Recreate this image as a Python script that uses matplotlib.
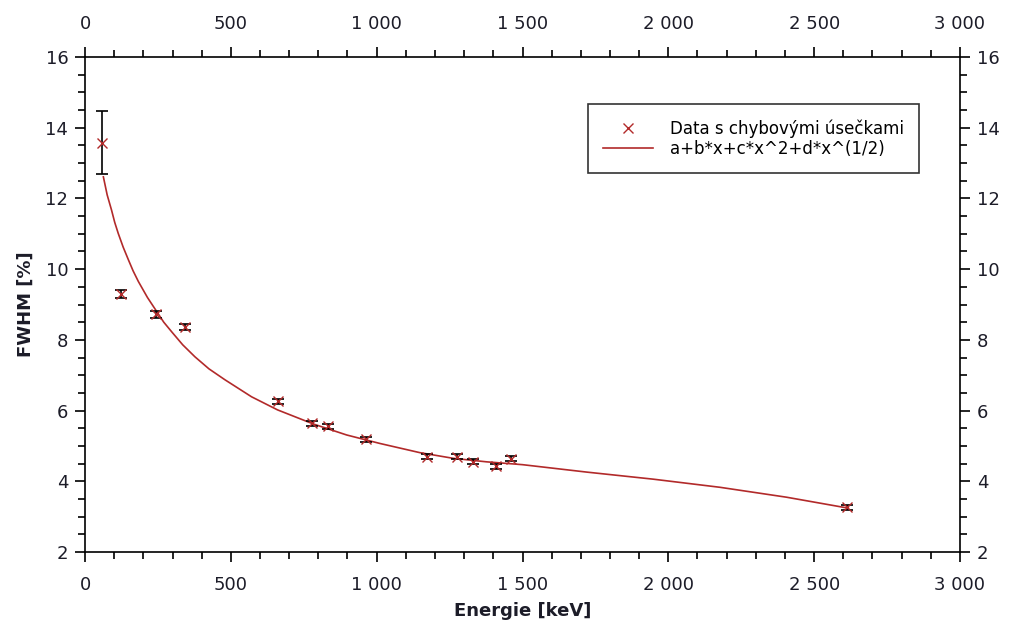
import matplotlib.pyplot as plt
from matplotlib.ticker import MultipleLocator, FuncFormatter

# measured points (energy keV, FWHM %, error)
energy = [59.5, 122, 245, 344, 662, 779, 834, 964, 1173, 1275, 1332, 1408, 1461, 2614]
fwhm = [13.58, 9.29, 8.72, 8.36, 6.26, 5.64, 5.55, 5.19, 4.69, 4.69, 4.55, 4.42, 4.64, 3.26]
fwhm_err = [0.88, 0.11, 0.10, 0.08, 0.07, 0.07, 0.07, 0.07, 0.07, 0.07, 0.07, 0.07, 0.07, 0.07]

# fitted curve
fit_x = [63, 76, 91, 102, 114, 131, 149, 165, 183, 214, 246, 270, 297, 335, 377, 425, 480,
         571, 660, 783, 897, 1011, 1148, 1262, 1377, 1500, 1720, 1948, 2177, 2405, 2617]
fit_y = [12.61, 12.10, 11.67, 11.32, 11.01, 10.62, 10.26, 9.95, 9.65, 9.20, 8.80, 8.50,
         8.23, 7.86, 7.52, 7.18, 6.87, 6.39, 6.02, 5.62, 5.31, 5.07, 4.81, 4.65, 4.55,
         4.47, 4.26, 4.06, 3.83, 3.55, 3.24]

red = "#b22a2a"
txt = "#1c1c28"

fig = plt.figure(figsize=(10.13, 6.28), dpi=100)
ax = fig.add_axes([85 / 1013, 1 - 552 / 628, 875 / 1013, 495 / 628])

ax.plot(fit_x, fit_y, color=red, lw=1.2, label="a+b*x+c*x^2+d*x^(1/2)", zorder=2)
ax.errorbar(energy, fwhm, yerr=fwhm_err, fmt="none", ecolor="black", elinewidth=1.2,
            capsize=4.5, capthick=1.2, zorder=3)
ax.plot(energy, fwhm, ls="none", marker="x", ms=7, mew=1.0, color=red,
        label="Data s chybovými úsečkami", zorder=4)

ax.set_xlim(0, 3000)
ax.set_ylim(2, 16)
ax.xaxis.set_major_locator(MultipleLocator(500))
ax.xaxis.set_minor_locator(MultipleLocator(100))
ax.yaxis.set_major_locator(MultipleLocator(2))
ax.yaxis.set_minor_locator(MultipleLocator(0.5))
ax.xaxis.set_major_formatter(FuncFormatter(lambda v, p: f"{int(v):,}".replace(",", " ")))

ax.tick_params(which="both", direction="out", top=True, right=True,
               labeltop=True, labelright=True, labelsize=13, labelcolor=txt, width=1.2)
ax.tick_params(which="major", length=7)
ax.tick_params(which="minor", length=5)
ax.tick_params(axis="x", which="major", pad=10)
ax.tick_params(axis="y", which="major", pad=5)
for s in ax.spines.values():
    s.set_linewidth(1.2)

ax.set_xlabel("Energie [keV]", fontsize=13, fontweight="bold", color=txt, labelpad=6)
ax.set_ylabel("FWHM [%]", fontsize=13, fontweight="bold", color=txt, labelpad=8)

h, l = ax.get_legend_handles_labels()
leg = ax.legend(h[::-1], l[::-1], loc="upper right", bbox_to_anchor=(0.953, 0.905),
                fontsize=12, frameon=True, fancybox=False, edgecolor="black",
                borderpad=0.9, borderaxespad=0, handlelength=3.0, handletextpad=1.0,
                labelspacing=0.15)
leg.get_frame().set_linewidth(1.2)

fig.savefig("out.png", dpi=100)
